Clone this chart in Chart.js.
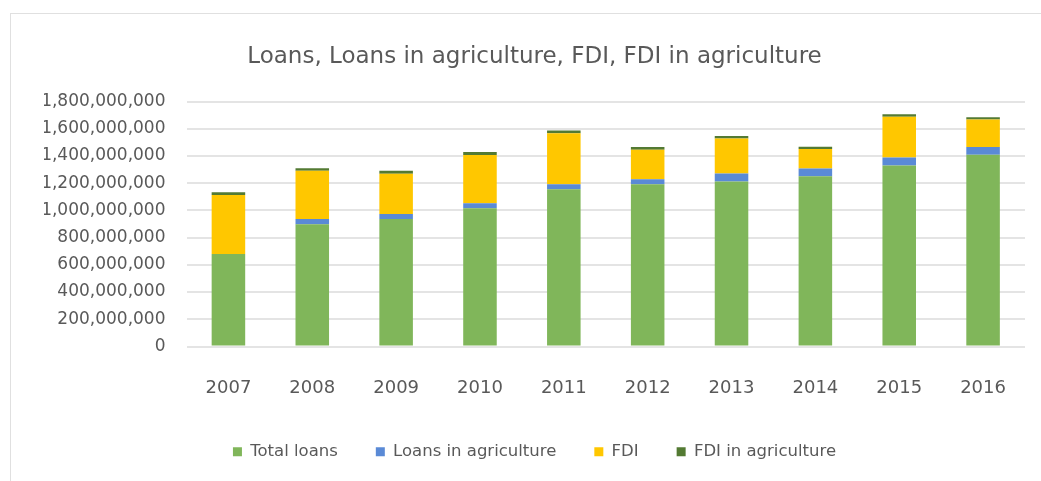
<!DOCTYPE html>
<html>
<head>
<meta charset="utf-8">
<script src="https://cdn.jsdelivr.net/npm/chart.js@4"></script>
<style>
  html, body { margin: 0; padding: 0; background: #fff; overflow: hidden; }
  #box {
    position: absolute; left: 10px; top: 13px;
    width: 1050px; height: 470px;
    border-left: 1px solid #e0e0e0; border-top: 1px solid #e0e0e0;
  }
  #chart { display: block; }
</style>
</head>
<body>
<div id="box"><canvas id="chart" width="1050" height="467"></canvas></div>
<script>
const years = ['2007', '2008', '2009', '2010', '2011', '2012', '2013', '2014', '2015', '2016'];
const totalLoans = [679000000, 898000000, 937000000, 1016000000, 1156000000, 1193000000, 1212000000, 1252000000, 1331000000, 1410000000];
const loansAgri = [0, 39000000, 37000000, 37000000, 37000000, 37000000, 60000000, 57000000, 59000000, 56000000];
const fdi = [435000000, 354000000, 295000000, 354000000, 374000000, 216000000, 256000000, 143000000, 298000000, 202000000];
const fdiAgri = [20000000, 20000000, 22000000, 22000000, 20000000, 20000000, 20000000, 17000000, 19000000, 17000000];

const textColor = '#595959';
const fontFamily = '"DejaVu Sans", sans-serif';

const ctx = document.getElementById('chart');

new Chart(ctx, {
    type: 'bar',
    data: {
        labels: years,
        datasets: [
            { label: 'Total loans', data: totalLoans, backgroundColor: '#80b65a' },
            { label: 'Loans in agriculture', data: loansAgri, backgroundColor: '#5a8ad6' },
            { label: 'FDI', data: fdi, backgroundColor: '#ffc700' },
            { label: 'FDI in agriculture', data: fdiAgri, backgroundColor: '#537a33' }
        ]
    },
    options: {
        responsive: false,
        animation: false,
        layout: { padding: { top: 0, right: 36, bottom: 11, left: 33 } },
        datasets: {
            bar: { categoryPercentage: 1, barPercentage: 0.4, borderWidth: 0 }
        },
        plugins: {
            title: {
                display: true,
                text: 'Loans, Loans in agriculture, FDI, FDI in agriculture',
                color: textColor,
                font: { family: fontFamily, size: 23, weight: 'normal' },
                padding: { top: 29, bottom: 31 }
            },
            legend: {
                position: 'bottom',
                labels: {
                    color: textColor,
                    font: { family: fontFamily, size: 16.5 },
                    boxWidth: 9,
                    boxHeight: 9,
                    padding: 38
                }
            },
            tooltip: { enabled: false }
        },
        scales: {
            x: {
                stacked: true,
                grid: { display: false },
                border: { display: false },
                ticks: {
                    color: textColor,
                    font: { family: fontFamily, size: 18 },
                    padding: 23
                },
                afterFit: function (scale) { scale.height = 59; }
            },
            y: {
                stacked: true,
                min: 0,
                max: 1800000000,
                grid: { color: '#e4e4e4', lineWidth: 2, drawTicks: false },
                border: { display: false },
                ticks: {
                    stepSize: 200000000,
                    color: textColor,
                    font: { family: fontFamily, size: 17 },
                    padding: 21,
                    callback: function (value) {
                        return value.toLocaleString('en-US');
                    }
                },
                afterFit: function (scale) { scale.width = 142.5; }
            }
        }
    }
});
</script>
</body>
</html>
